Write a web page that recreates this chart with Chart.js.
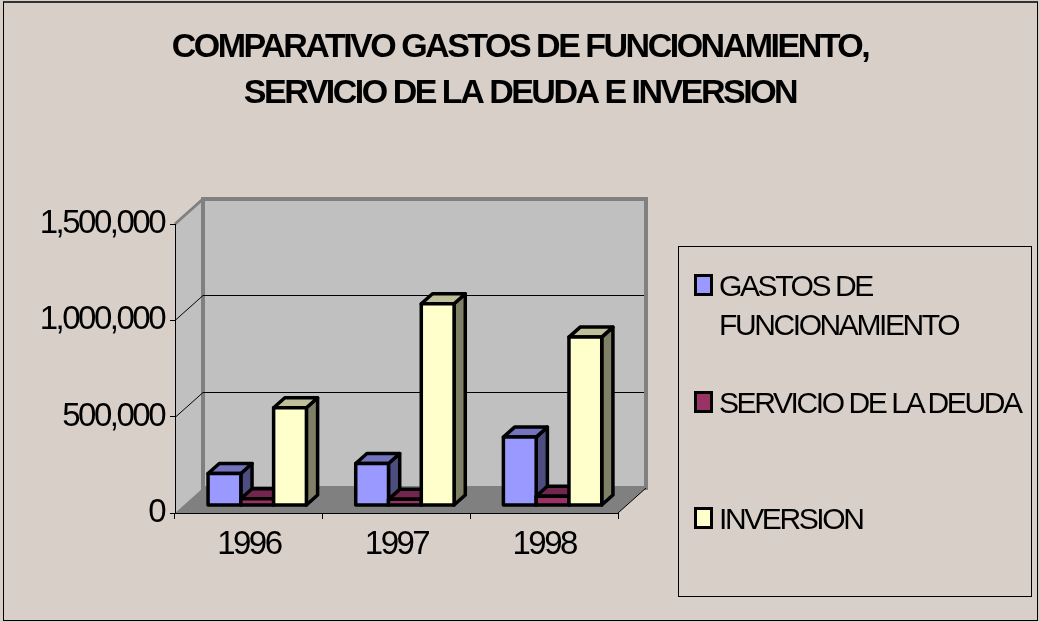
<!DOCTYPE html>
<html>
<head>
<meta charset="utf-8">
<script src="https://cdn.jsdelivr.net/npm/chart.js@4.4.1/dist/chart.umd.min.js"></script>
<style>
  body { margin: 0; background: #D7CFC8; }
  #wrap { position: absolute; left: 0; top: 0; width: 1040px; height: 622px; }
  #frame { position: absolute; left: 3px; top: 1px; width: 1033px; height: 617px; border: 1px solid #000; border-top: 2px solid #333; pointer-events: none; }
  #legend { position: absolute; left: 678px; top: 246px; width: 352px; height: 349px; border: 1px solid #000; }
  #legend .sw { position: absolute; left: 15px; width: 13px; height: 16px; border: 3px solid #000; }
  #legend .lab { position: absolute; left: 40px; width: 312px; color: #000;
    font: 30px/39px 'Liberation Sans', Arial, sans-serif; letter-spacing: -2.4px; }
</style>
</head>
<body>
<div id="wrap"><canvas id="chart"></canvas></div>
<div id="frame"></div>
<div id="legend"></div>
<script>
// datos
const years = ['1996', '1997', '1998'];
const seriesNames = ['GASTOS DE FUNCIONAMIENTO', 'SERVICIO DE LA DEUDA', 'INVERSION'];
const gastos = [166000, 218000, 355000];
const servicio = [35000, 32000, 48000];
const inversion = [507000, 1047000, 874000];
const yTicks = [0, 500000, 1000000, 1500000];
const seriesColors = ['#9999FF', '#993366', '#FFFFCC'];

const FONT = "'Liberation Sans', Arial, sans-serif";

// profundidad del piso y de las barras
const DX = 28, DY = -25;
const BX = 8.4, BY = -7.5;
const BDX = 11.2, BDY = -10;

function shade(hex, f) {
  const n = parseInt(hex.slice(1), 16);
  const r = Math.round(((n >> 16) & 255) * f);
  const g = Math.round(((n >> 8) & 255) * f);
  const b = Math.round((n & 255) * f);
  return `rgb(${r},${g},${b})`;
}

function poly(ctx, pts, fill, stroke, lw) {
  ctx.beginPath();
  ctx.moveTo(pts[0][0], pts[0][1]);
  for (let i = 1; i < pts.length; i++) ctx.lineTo(pts[i][0], pts[i][1]);
  ctx.closePath();
  if (fill) { ctx.fillStyle = fill; ctx.fill(); }
  if (stroke) { ctx.strokeStyle = stroke; ctx.lineWidth = lw; ctx.stroke(); }
}

// paredes y piso 3D
const wallsPlugin = {
  id: 'walls',
  beforeDraw(chart) {
    const ctx = chart.ctx;
    ctx.letterSpacing = '-2.5px';
    const { left, right, top, bottom } = chart.chartArea;
    const y = chart.scales.y;
    ctx.save();
    ctx.lineJoin = 'miter';
    // pared lateral
    poly(ctx, [[left, top], [left + DX, top + DY], [left + DX, bottom + DY], [left, bottom]], '#C0C0C0');
    // pared del fondo
    poly(ctx, [[left + DX, top + DY], [right + DX, top + DY], [right + DX, bottom + DY], [left + DX, bottom + DY]], '#C0C0C0', '#808080', 4);
    // piso
    poly(ctx, [[left, bottom], [right, bottom], [right + DX, bottom + DY], [left + DX, bottom + DY]], '#808080');
    // borde superior de la pared lateral
    ctx.strokeStyle = '#808080';
    ctx.lineWidth = 3;
    ctx.beginPath();
    ctx.moveTo(left, top);
    ctx.lineTo(left + DX, top + DY);
    ctx.stroke();
    // lineas de division
    ctx.strokeStyle = '#000';
    ctx.lineWidth = 1;
    y.ticks.forEach(t => {
      if (t.value === y.min || t.value === y.max) return;
      const py = Math.round(y.getPixelForValue(t.value)) + 0.5;
      ctx.beginPath();
      ctx.moveTo(left, py);
      ctx.lineTo(left + DX, py + DY);
      ctx.lineTo(right + DX - 2, py + DY);
      ctx.stroke();
    });
    // borde frontal derecho del piso
    ctx.beginPath();
    ctx.moveTo(right, bottom);
    ctx.lineTo(right + DX, bottom + DY);
    ctx.stroke();
    ctx.restore();
  }
};

// barras 3D: frente, cara superior y cara lateral, en orden de izquierda a derecha
const barsPlugin = {
  id: 'bars3d',
  afterDatasetsDraw(chart) {
    const ctx = chart.ctx;
    ctx.save();
    ctx.translate(BX, BY);
    ctx.lineJoin = 'round';
    seriesNames.forEach((name, i) => {
      const color = seriesColors[i];
      chart.getDatasetMeta(i).data.forEach(bar => {
        const { x, y, base, width } = bar.getProps(['x', 'y', 'base', 'width'], true);
        const l = x - width / 2, r = x + width / 2;
        poly(ctx, [[r, y], [r + BDX, y + BDY], [r + BDX, base + BDY], [r, base]], shade(color, 0.5), '#000', 3.5);
        poly(ctx, [[l, y], [r, y], [r + BDX, y + BDY], [l + BDX, y + BDY]], shade(color, 0.75), '#000', 3.5);
        poly(ctx, [[l, y], [r, y], [r, base], [l, base]], color, '#000', 3.5);
      });
    });
    ctx.restore();
  }
};

const seriesData = [gastos, servicio, inversion];

new Chart(document.getElementById('chart'), {
  type: 'bar',
  data: {
    labels: years,
    datasets: seriesNames.map((name, i) => ({
      label: name,
      data: seriesData[i],
      backgroundColor: 'rgba(0,0,0,0)',
      borderWidth: 0,
      categoryPercentage: 0.666,
      barPercentage: 1.0
    }))
  },
  options: {
    responsive: true,
    maintainAspectRatio: false,
    animation: false,
    layout: { padding: 0 },
    plugins: {
      legend: { display: false },
      tooltip: { enabled: false },
      title: {
        display: true,
        text: ['COMPARATIVO GASTOS DE FUNCIONAMIENTO,', 'SERVICIO DE LA DEUDA E INVERSION'],
        color: '#000',
        font: { family: FONT, size: 34, weight: 'bold', lineHeight: 46 / 34 },
        padding: { top: 25, bottom: 107 }
      }
    },
    scales: {
      x: {
        afterFit(scale) { scale.height = 109; },
        border: { display: true, color: '#000', width: 1 },
        grid: { offset: true, drawOnChartArea: false, drawTicks: true, tickLength: 6, color: '#000' },
        ticks: { color: '#000', padding: 6, font: { family: FONT, size: 33 } }
      },
      y: {
        min: 0,
        max: 1500000,
        afterFit(scale) { scale.width = 175; },
        afterBuildTicks(scale) { scale.ticks = yTicks.map(v => ({ value: v })); },
        border: { display: true, color: '#000', width: 1 },
        grid: { drawOnChartArea: false, drawTicks: true, tickLength: 5, color: '#000' },
        ticks: {
          color: '#000',
          padding: 6,
          font: { family: FONT, size: 33 },
          callback: v => v.toLocaleString('en-US')
        }
      },
      // espacio vacio a la derecha para la leyenda
      spacer: {
        type: 'linear',
        position: 'right',
        afterFit(scale) { scale.width = 422; },
        border: { display: false },
        grid: { display: false },
        ticks: { display: false }
      }
    }
  },
  plugins: [wallsPlugin, barsPlugin]
});

// leyenda
const legend = document.getElementById('legend');
seriesNames.forEach((name, i) => {
  const top = 19 + i * 116.5;
  const sw = document.createElement('div');
  sw.className = 'sw';
  sw.style.top = (top + 8) + 'px';
  sw.style.background = seriesColors[i];
  legend.appendChild(sw);
  const lab = document.createElement('div');
  lab.className = 'lab';
  lab.style.top = top + 'px';
  lab.textContent = name;
  legend.appendChild(lab);
});
</script>
</body>
</html>
